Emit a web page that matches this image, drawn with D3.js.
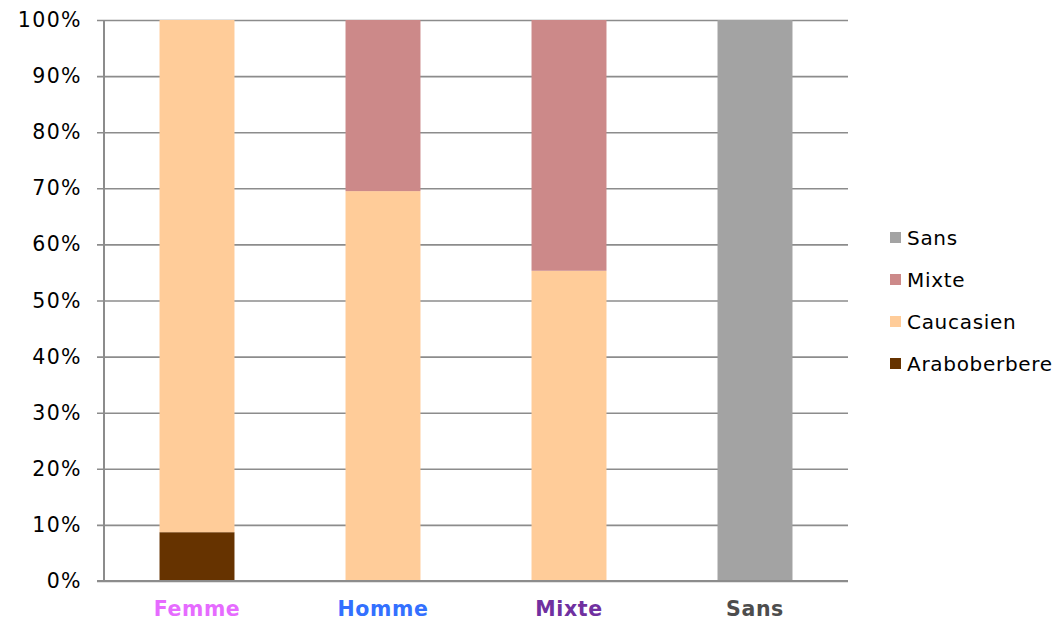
<!DOCTYPE html>
<html>
<head>
<meta charset="utf-8">
<script src="https://cdn.jsdelivr.net/npm/d3@7"></script>
<style>
  html, body { margin: 0; padding: 0; background: #fff; }
  svg { display: block; }
  svg text { font-family: "DejaVu Sans", Verdana, sans-serif; }
</style>
</head>
<body>
<svg id="chart" width="1059" height="621"></svg>
<script>
// Groups along the x axis
const categories = ["Femme", "Homme", "Mixte", "Sans"];
const categoryColors = ["#E66BFF", "#3370FF", "#7030A0", "#4D4D4D"];

// Share of each origin within every group (percent)
const araboberbere = [8.7, 0, 0, 0];
const caucasien    = [91.3, 69.5, 55.3, 0];
const mixte        = [0, 30.5, 44.7, 0];
const sans         = [0, 0, 0, 100];

const seriesNames  = ["Araboberbere", "Caucasien", "Mixte", "Sans"];
const seriesColors = ["#663300", "#FFCC99", "#CC8989", "#A3A3A3"];
const seriesValues = [araboberbere, caucasien, mixte, sans];

const yTicks = [0, 10, 20, 30, 40, 50, 60, 70, 80, 90, 100];

const svg = d3.select("#chart");
const margin = { left: 104, right: 211, top: 20, bottom: 40 };
const width = 1059, height = 621;

const x = d3.scaleBand()
  .domain(categories)
  .range([margin.left, width - margin.right])
  .paddingInner(0)
  .paddingOuter(0);

const y = d3.scaleLinear()
  .domain([0, 100])
  .range([height - margin.bottom, margin.top]);

// Horizontal gridlines plus outward ticks
const yAxis = d3.axisLeft(y)
  .tickValues(yTicks)
  .tickSize(-(width - margin.right - margin.left))
  .tickSizeOuter(0)
  .tickFormat(d => d + "%")
  .tickPadding(22);

const gy = svg.append("g")
  .attr("transform", `translate(${margin.left},0)`)
  .call(yAxis);
gy.select(".domain").remove();
gy.selectAll(".tick line")
  .attr("x1", -7)
  .attr("stroke", "#8C8C8C")
  .attr("stroke-width", 1.6);
gy.selectAll(".tick text")
  .attr("fill", "#000")
  .style("font-size", "20.5px")
  .style("letter-spacing", "1.4px");

// Stacked bars
const rows = categories.map((c, i) => {
  const r = { category: c };
  seriesNames.forEach((s, k) => { r[s] = seriesValues[k][i]; });
  return r;
});
const stacked = d3.stack().keys(seriesNames)(rows);

const barW = x.bandwidth() * 0.403;
svg.append("g")
  .selectAll("g")
  .data(stacked)
  .join("g")
  .attr("fill", (d, k) => seriesColors[k])
  .selectAll("rect")
  .data(d => d.filter(p => p[1] - p[0] > 0))
  .join("rect")
  .attr("x", d => x(d.data.category) + (x.bandwidth() - barW) / 2)
  .attr("width", barW)
  .attr("y", d => y(d[1]))
  .attr("height", d => y(d[0]) - y(d[1]));

// Vertical axis line and baseline
svg.append("line")
  .attr("x1", margin.left).attr("x2", margin.left)
  .attr("y1", y(100)).attr("y2", y(0))
  .attr("stroke", "#8C8C8C").attr("stroke-width", 2);
svg.append("line")
  .attr("x1", margin.left - 7).attr("x2", width - margin.right)
  .attr("y1", y(0)).attr("y2", y(0))
  .attr("stroke", "#8C8C8C").attr("stroke-width", 2);

// Category labels
const xAxis = d3.axisBottom(x).tickSize(0).tickPadding(20);
const gx = svg.append("g")
  .attr("transform", `translate(0,${y(0)})`)
  .call(xAxis);
gx.select(".domain").remove();
gx.selectAll(".tick text")
  .style("font-size", "20.5px")
  .style("font-weight", "bold")
  .style("letter-spacing", "0.6px")
  .attr("fill", (d, i) => categoryColors[i]);

// Legend, top entry is the last series
const legend = svg.append("g").attr("transform", "translate(890,0)");
const legendOrder = seriesNames.map((s, k) => k).reverse();
legendOrder.forEach((k, j) => {
  const cy = 238 + j * 42;
  legend.append("rect")
    .attr("x", 0).attr("y", cy - 6)
    .attr("width", 11).attr("height", 11)
    .attr("fill", seriesColors[k]);
  legend.append("text")
    .attr("x", 17).attr("y", cy)
    .attr("dy", "0.35em")
    .style("font-size", "20px")
    .style("letter-spacing", "0.7px")
    .attr("fill", "#000")
    .text(seriesNames[k]);
});
</script>
</body>
</html>
